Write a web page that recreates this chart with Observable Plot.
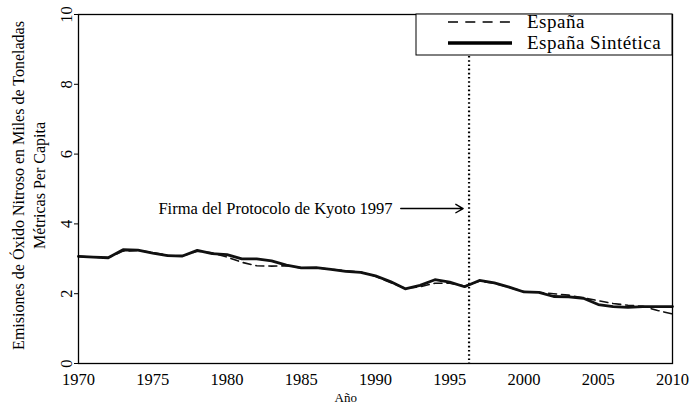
<!DOCTYPE html>
<html><head><meta charset="utf-8">
<script src="https://cdn.jsdelivr.net/npm/d3@7"></script>
<script src="https://cdn.jsdelivr.net/npm/@observablehq/plot@0.6"></script>
<style>body{margin:0;background:#fff}</style>
</head><body><div id="chart"></div>
<script>
const years = [1970,1971,1972,1973,1974,1975,1976,1977,1978,1979,
  1980,1981,1982,1983,1984,1985,1986,1987,1988,1989,
  1990,1991,1992,1993,1994,1995,1996,1997,1998,1999,
  2000,2001,2002,2003,2004,2005,2006,2007,2008,2009,2010];
const espana = [3.07,3.05,3.03,3.22,3.24,3.18,3.10,3.08,3.22,3.17,
  3.05,2.90,2.80,2.79,2.80,2.74,2.74,2.70,2.66,2.62,
  2.50,2.32,2.15,2.20,2.30,2.30,2.22,2.36,2.30,2.18,
  2.06,2.04,2.00,1.96,1.88,1.80,1.72,1.67,1.64,1.52,1.42];
const espanaSintetica = [3.07,3.05,3.03,3.26,3.25,3.16,3.09,3.08,3.24,3.15,
  3.12,3.00,3.00,2.94,2.82,2.74,2.75,2.70,2.64,2.61,
  2.51,2.35,2.14,2.24,2.40,2.33,2.20,2.38,2.31,2.19,
  2.05,2.04,1.92,1.91,1.87,1.69,1.63,1.61,1.63,1.63,1.63];
const xTicks = [1970,1975,1980,1985,1990,1995,2000,2005,2010];
const yTicks = [0,2,4,6,8,10];
const kyotoYear = [1996.3];
const seriesNames = ["España","España Sintética"];
const kyotoLabel = "Firma del Protocolo de Kyoto 1997";
const xLabel = "Año";
const yLabel = ["Emisiones de Óxido Nitroso en Miles de Toneladas","Métricas Per Capita"];

const rows = years.map((year,i)=>({year, espana: espana[i], sintetica: espanaSintetica[i]}));
const font = "'Liberation Serif', 'Times New Roman', serif";

const svg = Plot.plot({
  width: 690, height: 408,
  marginLeft: 78, marginRight: 18, marginTop: 14, marginBottom: 45,
  style: {fontFamily: font, fontSize: "16.5px", background: "#fff", color: "#000"},
  x: {domain: [1970, 2010]},
  y: {domain: [0, 10]},
  marks: [
    Plot.ruleX(kyotoYear, {stroke: "#000", strokeWidth: 2.2, strokeDasharray: "1.6,2.6"}),
    Plot.lineY(rows, {x: "year", y: "sintetica", stroke: "#111", strokeWidth: 2.8}),
    Plot.lineY(rows, {x: "year", y: "espana", stroke: "#111", strokeWidth: 1.6, strokeDasharray: "8,5"}),
    Plot.frame({stroke: "#000", strokeWidth: 1.3}),
    Plot.axisX({ticks: xTicks, tickSize: 0, tickPadding: 10, tickFormat: d => String(d), label: null, fontSize: 16.5}),
    Plot.axisY({ticks: yTicks, tickSize: 4, tickFormat: () => "", label: null}),
    Plot.text(yTicks, {y: d => d, text: d => String(d), frameAnchor: "left", textAnchor: "middle", rotate: -90, dx: -12, fontSize: 16.5}),
    Plot.text([yLabel.join("\n")], {text: d => d, frameAnchor: "left", textAnchor: "middle", y: 5.1, dx: -51, rotate: -90, lineHeight: 1.3, fontSize: 16}),
    Plot.text([xLabel], {text: d => d, x: 1988, y: 0, dy: 34, fontSize: 13}),
    Plot.text([kyotoLabel], {text: d => d, x: 1991.15, y: 4.44, textAnchor: "end", fontSize: 16.5}),
    Plot.arrow([0], {x1: 1991.7, y1: 4.44, x2: 1995.9, y2: 4.44, stroke: "#000", strokeWidth: 1.4, headLength: 9})
  ]
});

// legend box (top-right, inside frame)
const g = d3.select(svg).append("g")
  .attr("font-family", font).attr("text-anchor", "start").attr("font-size", 19);
g.append("rect").attr("x", 416).attr("y", 14).attr("width", 256).attr("height", 41)
  .attr("fill", "#fff").attr("stroke", "#000").attr("stroke-width", 1);
g.append("line").attr("x1", 448).attr("x2", 510).attr("y1", 22).attr("y2", 22)
  .attr("stroke", "#000").attr("stroke-width", 1.5).attr("stroke-dasharray", "10,7.3");
g.append("line").attr("x1", 448).attr("x2", 512).attr("y1", 43).attr("y2", 43)
  .attr("stroke", "#000").attr("stroke-width", 3.5);
g.append("text").attr("x", 527).attr("y", 28).style("text-anchor", "start").style("font-family", font).style("letter-spacing", "0.5px").text(seriesNames[0]);
g.append("text").attr("x", 527).attr("y", 49).style("text-anchor", "start").style("font-family", font).style("letter-spacing", "0.5px").text(seriesNames[1]);

document.getElementById("chart").appendChild(svg);
</script>
</body></html>
